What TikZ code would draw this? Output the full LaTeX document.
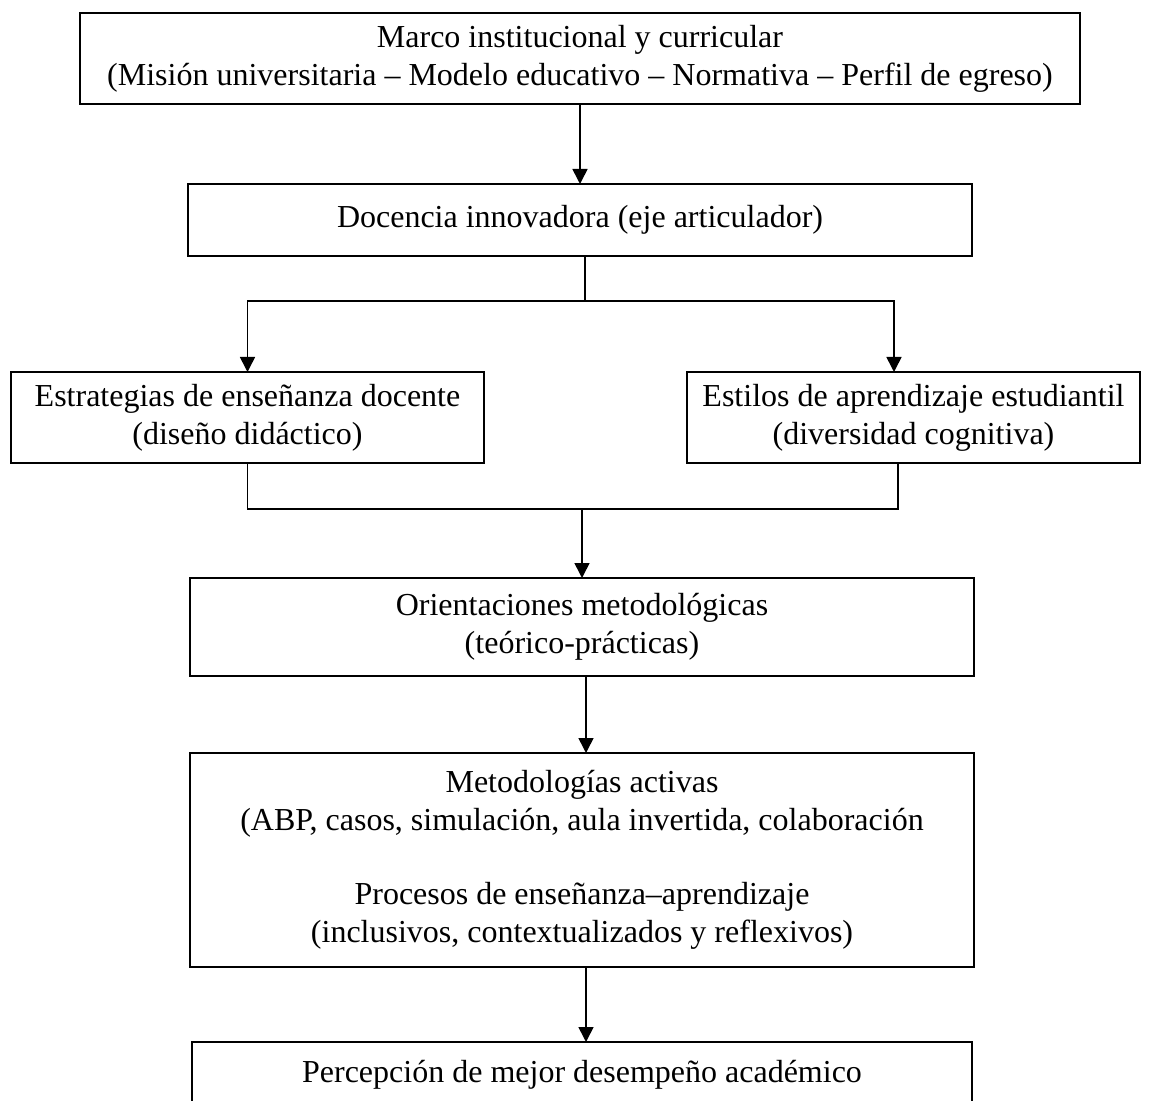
\documentclass[tikz,border=0pt]{standalone}
\usepackage{fontspec}
\setmainfont{Liberation Serif}
\usepackage{tikz}
\usetikzlibrary{positioning,arrows.meta}

\begin{document}
\begin{tikzpicture}[
  box/.style={draw, line width=0.8pt, align=center, inner sep=2pt, outer sep=0pt,
    font=\fontsize{16pt}{19pt}\selectfont},
  arrow/.style={-{Triangle[length=7.5pt,width=7.5pt]}, line width=0.8pt},
  link/.style={line width=0.8pt}
]
  \useasboundingbox (0,0) rectangle (575.5pt,-550.5pt);
  \node[box, minimum width=500pt, minimum height=45.5pt] (marco) at (290pt,-29.25pt)
    {Marco institucional y curricular\\(Misión universitaria – Modelo educativo – Normativa – Perfil de egreso)};
  \node[box, minimum width=392pt, minimum height=36pt, below=40pt of marco] (docencia)
    {Docencia innovadora (eje articulador)};
  \node[box, minimum width=236.5pt, minimum height=45.5pt] (estrat) at (123.75pt,-208.75pt)
    {Estrategias de enseñanza docente\\(diseño didáctico)};
  \node[box, minimum width=226.5pt, minimum height=45.5pt] (estilos) at (456.75pt,-208.75pt)
    {Estilos de aprendizaje estudiantil\\(diversidad cognitiva)};
  \node[box, minimum width=392pt, minimum height=49pt] (orient) at (291pt,-313.5pt)
    {Orientaciones metodológicas\\(teórico-prácticas)};
  \node[box, minimum width=392pt, minimum height=107pt, below=38.5pt of orient] (metod)
    {Metodologías activas\\(ABP, casos, simulación, aula invertida, colaboración\\[18pt]
     Procesos de enseñanza–aprendizaje\\(inclusivos, contextualizados y reflexivos)};
  \node[box, minimum width=390pt, minimum height=33pt, below=37.5pt of metod] (percep)
    {Percepción de mejor desempeño académico};
  \draw[arrow] (marco) -- (docencia);
  \draw[link] ([xshift=2.5pt]docencia.south) -- ++(0,-22.5pt) coordinate (split);
  \draw[arrow] (split) -| (estrat.north);
  \draw[arrow] (split) -| ([xshift=-9.75pt]estilos.north);
  \draw[link] (estrat.south) -- ++(0,-23pt) coordinate (merge) -| ([xshift=-7.75pt]estilos.south);
  \draw[arrow] (merge -| orient.north) -- (orient.north);
  \draw[arrow] ([xshift=2pt]orient.south) -- ([xshift=2pt]metod.north);
  \draw[arrow] ([xshift=2pt]metod.south) -- ([xshift=2pt]percep.north);
\end{tikzpicture}
\end{document}
